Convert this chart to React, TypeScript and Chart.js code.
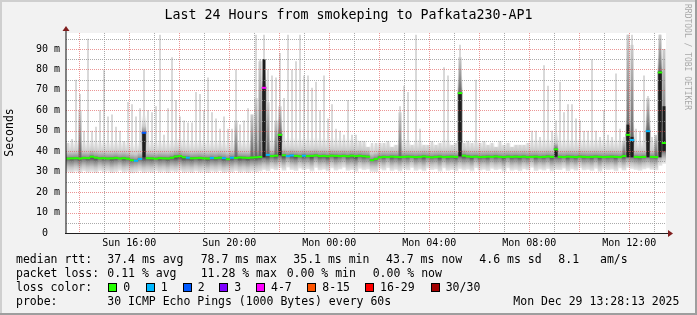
import React, { useEffect, useRef } from 'react';
import { Chart, registerables } from 'chart.js';

Chart.register(...registerables);

// ---------- data ----------
const STEP_MIN = 9.6; // minutes per sample column (150 columns over 24h)
const START_MIN = 13 * 60 + 28.2; // Sun 13:28:13
const Y_MAX = 97.8;

const yTickValues = [0, 10, 20, 30, 40, 50, 60, 70, 80, 90];
const yMinorValues = [5, 15, 25, 35, 45, 55, 65, 75, 85, 95];
const gridHours = [14, 15, 16, 17, 18, 19, 20, 21, 22, 23, 24, 25, 26, 27, 28, 29, 30, 31, 32, 33, 34, 35, 36, 37];
const xTickHours = [16, 20, 24, 28, 32, 36];
const xTickLabels = ['Sun 16:00', 'Sun 20:00', 'Mon 00:00', 'Mon 04:00', 'Mon 08:00', 'Mon 12:00'];

// upper envelope of the ping smoke (ms)
const smokeHigh = [
  44, 46, 75, 68, 50, 95, 50, 52, 60, 80,
  57, 58, 52, 50, 45, 64, 63, 57, 61, 80,
  60, 59, 62, 97, 48, 61, 86, 65, 57, 55,
  54, 54, 69, 68, 60, 76, 59, 56, 51, 57,
  51, 51, 80, 53, 55, 61, 51, 97, 85, 97,
  80, 77, 76, 88, 66, 97, 80, 84, 97, 77,
  77, 71, 74, 60, 77, 56, 63, 51, 50, 48,
  65, 48, 48, 45, 45, 42, 44, 44, 44, 44,
  45, 42, 43, 62, 72, 69, 43, 97, 51, 43,
  43, 45, 43, 44, 81, 77, 43, 44, 92, 44,
  45, 44, 75, 44, 45, 43, 44, 42, 45, 43,
  44, 42, 43, 43, 43, 44, 50, 50, 47, 82,
  72, 50, 55, 74, 59, 63, 63, 56, 55, 50,
  50, 85, 50, 47, 60, 48, 47, 78, 51, 47,
  97, 97, 51, 50, 77, 67, 47, 45, 97, 90,
];

// lower envelope of the ping smoke (ms)
const smokeLow = [
  30.0, 29.6, 30.2, 29.5, 30.4, 29.8, 30.1, 29.6, 30.5, 29.9,
  30.2, 29.5, 30.0, 30.6, 29.7, 30.1, 29.4, 29.8, 30.3, 29.6,
  30.0, 29.7, 30.4, 29.8, 30.1, 29.5, 30.2, 29.9, 30.5, 29.7,
  30.0, 29.6, 30.3, 29.8, 30.1, 29.5, 30.2, 29.9, 30.4, 29.6,
  30.0, 29.8, 30.5, 29.7, 30.1, 29.6, 30.2, 29.9, 30.3, 31.0,
  30.4, 31.5, 30.8, 31.9, 30.6, 32.2, 31.0, 30.5, 31.7, 30.9,
  31.4, 30.3, 32.0, 30.8, 31.2, 30.4, 31.8, 30.7, 31.3, 32.1,
  30.6, 31.0, 30.2, 31.6, 30.9, 31.3, 30.1, 30.0, 31.5, 30.7,
  31.9, 30.5, 31.1, 30.3, 31.4, 30.8, 32.0, 30.6, 31.2, 30.4,
  31.7, 30.9, 31.3, 30.2, 31.8, 30.6, 31.0, 30.4, 31.5, 30.8,
  31.2, 30.3, 31.9, 30.7, 31.1, 30.5, 31.6, 30.9, 31.3, 30.2,
  31.8, 30.6, 31.0, 30.4, 31.4, 30.8, 32.1, 30.5, 31.2, 30.7,
  31.5, 30.3, 31.0, 30.9, 31.7, 30.4, 31.3, 30.6, 31.9, 30.8,
  31.1, 30.5, 31.6, 30.2, 31.4, 30.9, 31.2, 30.4, 31.8, 30.7,
  32.0, 31.5, 31.0, 30.6, 31.3, 31.8, 31.1, 30.8, 33.0, 34.0,
];

// median rtt (ms)
const medianRtt = [
  36.4, 36.5, 36.6, 36.4, 36.7, 36.6, 37.3, 36.8, 36.5, 36.6,
  36.4, 36.5, 36.7, 36.4, 36.6, 36.3, 35.6, 35.3, 36.2, 49.0,
  36.6, 36.5, 36.3, 36.6, 36.5, 36.4, 36.8, 37.4, 37.6, 37.0,
  36.8, 36.5, 36.6, 36.7, 36.5, 36.4, 36.7, 36.6, 36.8, 36.6,
  36.1, 36.8, 36.7, 36.9, 36.8, 36.7, 36.9, 37.0, 37.2, 71.0,
  38.2, 37.6, 37.8, 48.0, 38.0, 37.6, 37.9, 37.7, 37.5, 37.8,
  37.6, 37.7, 37.9, 37.6, 37.7, 37.5, 37.8, 37.7, 37.6, 37.7,
  37.5, 37.8, 37.6, 37.7, 37.5, 37.3, 35.6, 36.2, 37.0, 37.2,
  37.1, 37.3, 37.2, 37.1, 37.2, 37.3, 37.2, 37.1, 37.2, 37.4,
  37.2, 37.0, 37.2, 37.3, 37.1, 37.2, 37.3, 37.2, 68.4, 37.8,
  37.4, 37.2, 37.3, 37.1, 37.2, 37.3, 37.2, 37.4, 37.2, 37.1,
  37.3, 37.2, 37.3, 37.2, 37.3, 37.1, 37.2, 37.3, 37.1, 37.2,
  37.4, 37.2, 40.9, 37.2, 37.1, 37.3, 37.2, 37.1, 37.3, 37.2,
  37.1, 37.2, 37.3, 37.2, 37.1, 37.2, 37.3, 37.2, 37.1, 37.6,
  48.0, 45.5, 37.2, 37.1, 37.2, 49.8, 37.2, 37.1, 78.5, 44.0,
];

// columns with loss (index into the sample columns) and their loss class
const lossColumns = [17, 18, 19, 30, 36, 39, 41, 49, 50, 55, 56, 59, 141, 145];
const lossClasses = [1, 1, 2, 1, 1, 1, 1, 4, 1, 1, 1, 1, 1, 1];

// dense (dark) smoke columns reaching above the usual band
const darkSmokeColumns = [3, 42, 46, 47, 48, 50, 52, 53, 83, 98, 122, 139, 140, 141, 145, 147, 148, 149];
const darkSmokeTop = [60, 55, 58, 66, 84, 64, 55, 62, 59, 86, 44, 45, 97, 92, 66, 48, 97, 90];

// very dense (black) smoke columns
const coreColumns = [19, 49, 53, 98, 122, 140, 141, 145, 148, 149];
const coreLow = [37.0, 37.0, 38.0, 37.5, 37.3, 37.0, 37.0, 37.0, 37.0, 40.0];
const coreTop = [49.0, 85.0, 48.0, 68.5, 41.0, 53.0, 47.0, 50.0, 79.0, 62.0];

const lossLegendLabels = ['0', '1', '2', '3', '4-7', '8-15', '16-29', '30/30'];
const lossLegendColors = ['#26ff00', '#00b8ff', '#0059ff', '#7e00ff', '#ff00ff', '#ff5500', '#ff0000', '#a10000'];

const titleText = 'Last 24 Hours from smokeping to Pafkata230-AP1';
const yAxisTitle = 'Seconds';
const watermark = 'RRDTOOL / TOBI OETIKER';
const legendRtt = ['median rtt:', '37.4 ms avg', '78.7 ms max', '35.1 ms min', '43.7 ms now', '4.6 ms sd', '8.1', 'am/s'];
const legendLoss = ['packet loss:', '0.11 % avg', '11.28 % max', '0.00 % min', '0.00 % now'];
const legendLossTitle = 'loss color:';
const legendProbe = ['probe:', '30 ICMP Echo Pings (1000 Bytes) every 60s', 'Mon Dec 29 13:28:13 2025'];

// ---------- layout / style ----------
const MONO = '"DejaVu Sans Mono", monospace';
const rttX = [16, 107.3, 200.7, 293.3, 386, 479.3, 558.3, 600];
const lossX = [16, 107.3, 200.7, 286.7, 372.7];
const boxX = [108.3, 145.7, 182.7, 219.3, 256, 307.3, 365, 430.7];
const probeX = [16, 107.3, 513.3];
const baselines = [263.3, 277.2, 291.1, 305];

const colX = (i: number) => (i + 0.5) * STEP_MIN;

const lossClassAt = (i: number) => {
  const k = lossColumns.indexOf(i);
  return k >= 0 ? lossClasses[k] : 0;
};

const MEDIAN_INDEX = 5;

function drawGrid(chart: any) {
  const { ctx, chartArea: a, scales } = chart;
  const x = scales.x;
  const y = scales.y;
  ctx.save();
  ctx.lineWidth = 1;
  ctx.setLineDash([1, 1]);
  const minor = 'rgba(143,143,143,0.75)';
  const major = 'rgba(222,79,79,0.6)';
  ctx.strokeStyle = minor;
  for (const v of yMinorValues) {
    if (v > Y_MAX) continue;
    const py = Math.round(y.getPixelForValue(v)) + 0.5;
    ctx.beginPath();
    ctx.moveTo(a.left, py);
    ctx.lineTo(a.right, py);
    ctx.stroke();
  }
  for (const h of gridHours) {
    const px = Math.round(x.getPixelForValue(h * 60 - START_MIN)) + 0.5;
    if (px < a.left || px > a.right) continue;
    ctx.strokeStyle = h % 2 === 0 ? major : minor;
    ctx.beginPath();
    ctx.moveTo(px, a.top);
    ctx.lineTo(px, a.bottom);
    ctx.stroke();
  }
  ctx.strokeStyle = major;
  for (const v of yTickValues) {
    if (v === 0) continue;
    const py = Math.round(y.getPixelForValue(v)) + 0.5;
    ctx.beginPath();
    ctx.moveTo(a.left, py);
    ctx.lineTo(a.right, py);
    ctx.stroke();
  }
  ctx.restore();
}

const rrdPlugin = {
  id: 'rrdLook',
  beforeDraw(chart: any) {
    const { ctx, chartArea: a, width, height } = chart;
    ctx.save();
    ctx.fillStyle = '#f2f2f2';
    ctx.fillRect(0, 0, width, height);
    ctx.fillStyle = '#cfcfcf';
    ctx.fillRect(0, 0, width, 2);
    ctx.fillRect(0, 0, 2, height);
    ctx.fillStyle = '#9e9e9e';
    ctx.fillRect(0, height - 2, width, 2);
    ctx.fillRect(width - 2, 0, 2, height);
    ctx.fillStyle = '#ffffff';
    ctx.fillRect(a.left, a.top, a.right - a.left, a.bottom - a.top);
    ctx.restore();
  },
  beforeDatasetDraw(chart: any, args: any) {
    if (args.index === MEDIAN_INDEX) drawGrid(chart);
  },
  afterDraw(chart: any) {
    const { ctx, chartArea: a, width } = chart;
    ctx.save();
    // axes
    ctx.fillStyle = 'rgba(31,31,31,0.55)';
    ctx.fillRect(a.left - 1, a.top - 3, 2, a.bottom - a.top + 3);
    ctx.fillStyle = '#1f1f1f';
    ctx.fillRect(a.left - 1, a.bottom, a.right - a.left + 4, 1);
    // arrows
    ctx.fillStyle = '#801f1f';
    ctx.beginPath();
    ctx.moveTo(a.left, a.top - 7);
    ctx.lineTo(a.left - 3.5, a.top - 2);
    ctx.lineTo(a.left + 3.5, a.top - 2);
    ctx.closePath();
    ctx.fill();
    ctx.beginPath();
    ctx.moveTo(a.right + 7, a.bottom + 0.5);
    ctx.lineTo(a.right + 2, a.bottom - 3);
    ctx.lineTo(a.right + 2, a.bottom + 4);
    ctx.closePath();
    ctx.fill();

    // title
    ctx.fillStyle = '#000';
    ctx.font = '13.3px ' + MONO;
    ctx.textAlign = 'center';
    ctx.textBaseline = 'alphabetic';
    ctx.fillText(titleText, width / 2, 18.5);

    // y title
    ctx.save();
    ctx.translate(10.5, 132.5);
    ctx.rotate(-Math.PI / 2);
    ctx.font = '11.5px ' + MONO;
    ctx.textAlign = 'center';
    ctx.textBaseline = 'middle';
    ctx.fillText(yAxisTitle, 0, 0);
    ctx.restore();

    // watermark
    ctx.save();
    ctx.translate(685, 4);
    ctx.rotate(Math.PI / 2);
    ctx.font = '8px ' + MONO;
    ctx.fillStyle = 'rgba(0,0,0,0.32)';
    ctx.textAlign = 'left';
    ctx.textBaseline = 'alphabetic';
    ctx.fillText(watermark, 0, 0);
    ctx.restore();

    // legend
    ctx.font = '11.5px ' + MONO;
    ctx.textAlign = 'left';
    ctx.textBaseline = 'alphabetic';
    ctx.fillStyle = '#000';
    legendRtt.forEach((t, i) => ctx.fillText(t, rttX[i], baselines[0]));
    legendLoss.forEach((t, i) => ctx.fillText(t, lossX[i], baselines[1]));
    ctx.fillText(legendLossTitle, 16, baselines[2]);
    lossLegendLabels.forEach((t, i) => {
      const bx = Math.round(boxX[i]);
      ctx.fillStyle = lossLegendColors[i];
      ctx.fillRect(bx, 283, 8, 8);
      ctx.strokeStyle = '#000';
      ctx.lineWidth = 1;
      ctx.strokeRect(bx + 0.5, 283.5, 8, 8);
      ctx.fillStyle = '#000';
      ctx.fillText(t, boxX[i] + 15, baselines[2]);
    });
    legendProbe.forEach((t, i) => ctx.fillText(t, probeX[i], baselines[3]));
    ctx.restore();
  },
};

function lowerSmokeColor(c: any) {
  const chart = c.chart;
  const y = chart.scales && chart.scales.y;
  if (c.type !== 'data' || !y || !chart.chartArea) return '#bbbbbb';
  const i = c.dataIndex;
  const p0 = y.getPixelForValue(smokeLow[i]);
  const p1 = y.getPixelForValue(smokeLow[i] + 6.8);
  const g = chart.ctx.createLinearGradient(0, p0, 0, p1);
  g.addColorStop(0, '#e8e8e8');
  g.addColorStop(0.35, '#c6c6c6');
  g.addColorStop(0.72, '#8e8e8e');
  g.addColorStop(1, '#505050');
  return g;
}

function hazeColor(c: any) {
  const chart = c.chart;
  const y = chart.scales && chart.scales.y;
  if (c.type !== 'data' || !y || !chart.chartArea) return 'rgba(200,200,200,0.5)';
  const i = c.dataIndex;
  const p0 = y.getPixelForValue(medianRtt[i]);
  const p1 = y.getPixelForValue(medianRtt[i] + 9);
  const g = chart.ctx.createLinearGradient(0, p0, 0, p1);
  g.addColorStop(0, 'rgba(88,88,88,1)');
  g.addColorStop(0.09, 'rgba(150,150,150,1)');
  g.addColorStop(0.35, 'rgba(202,202,202,1)');
  g.addColorStop(0.7, 'rgba(216,216,216,0.55)');
  g.addColorStop(1, 'rgba(225,225,225,0)');
  return g;
}

function darkSmokeColor(c: any) {
  const chart = c.chart;
  const y = chart.scales && chart.scales.y;
  if (c.type !== 'data' || !y || !chart.chartArea) return '#999999';
  const k = c.dataIndex;
  const i = darkSmokeColumns[k];
  const p0 = y.getPixelForValue(medianRtt[i]);
  const p1 = y.getPixelForValue(darkSmokeTop[k]);
  const g = chart.ctx.createLinearGradient(0, p0, 0, p1);
  g.addColorStop(0, '#666666');
  g.addColorStop(0.5, '#989898');
  g.addColorStop(1, '#cccccc');
  return g;
}

export default function App() {
  const ref = useRef<HTMLCanvasElement>(null);

  useEffect(() => {
    const canvas = ref.current;
    if (!canvas) return;
    const barCommon = {
      type: 'bar' as const,
      grouped: false,
      barPercentage: 1,
      categoryPercentage: 1,
      borderWidth: 0,
    };
    const upperData = medianRtt.map((m, i) => ({ x: colX(i), y: [m, smokeHigh[i]] }));
    const chart = new Chart(canvas, {
      type: 'bar',
      data: {
        datasets: [
          {
            ...barCommon,
            label: 'smoke low',
            order: 6,
            data: medianRtt.map((m, i) => ({ x: colX(i), y: [smokeLow[i], m] })),
            backgroundColor: lowerSmokeColor,
          } as any,
          {
            ...barCommon,
            label: 'smoke high',
            order: 5,
            barPercentage: 0.5,
            data: upperData,
            backgroundColor: '#d9d9d9',
          } as any,
          {
            ...barCommon,
            label: 'smoke haze',
            order: 4,
            data: upperData,
            backgroundColor: hazeColor,
          } as any,
          {
            ...barCommon,
            label: 'dense smoke',
            order: 3,
            barPercentage: 0.75,
            data: darkSmokeColumns.map((i, k) => ({ x: colX(i), y: [medianRtt[i], darkSmokeTop[k]] })),
            backgroundColor: darkSmokeColor,
          } as any,
          {
            ...barCommon,
            label: 'core',
            order: 2,
            barPercentage: 0.75,
            data: coreColumns.map((i, k) => ({ x: colX(i), y: [coreLow[k], coreTop[k]] })),
            backgroundColor: '#1e1e1e',
          } as any,
          {
            type: 'line',
            label: 'median rtt',
            order: 1,
            data: medianRtt.map((m, i) => ({ x: colX(i), y: m })),
            showLine: false,
            pointStyle: 'line',
            pointRadius: 2.2,
            pointHoverRadius: 2.2,
            pointBorderWidth: 2,
            pointBorderColor: (c: any) => lossLegendColors[lossClassAt(c.dataIndex)],
            pointBackgroundColor: (c: any) => lossLegendColors[lossClassAt(c.dataIndex)],
          } as any,
        ],
      },
      options: {
        responsive: false,
        maintainAspectRatio: false,
        animation: false,
        devicePixelRatio: 1,
        events: [],
        layout: { padding: { left: 0, right: 31, top: 33, bottom: 62 } },
        plugins: {
          legend: { display: false },
          tooltip: { enabled: false },
          title: { display: false },
        },
        scales: {
          x: {
            type: 'linear',
            min: 0,
            max: 1440,
            offset: false,
            grid: { display: false, drawTicks: false },
            border: { display: false },
            afterFit: (s: any) => {
              s.height = 20;
            },
            afterBuildTicks: (s: any) => {
              s.ticks = xTickHours.map((h) => ({ value: h * 60 - START_MIN }));
            },
            ticks: {
              autoSkip: false,
              maxRotation: 0,
              minRotation: 0,
              padding: 4,
              color: '#000',
              font: { family: MONO, size: 10 },
              callback: (_v: any, i: number) => xTickLabels[i],
            },
          },
          y: {
            type: 'linear',
            min: 0,
            max: Y_MAX,
            grid: { display: false, drawTicks: false },
            border: { display: false },
            afterFit: (s: any) => {
              s.width = 66;
            },
            afterBuildTicks: (s: any) => {
              s.ticks = yTickValues.map((v) => ({ value: v }));
            },
            ticks: {
              padding: 6,
              color: '#000',
              font: { family: MONO, size: 10 },
              callback: (v: any) => (Number(v) === 0 ? '0  ' : `${v} m`),
            },
          },
        },
      } as any,
      plugins: [rrdPlugin],
    });
    return () => chart.destroy();
  }, []);

  return (
    <div style={{ position: 'fixed', left: 0, top: 0, width: 697, height: 315 }}>
      <canvas ref={ref} width={697} height={315} style={{ display: 'block', width: 697, height: 315 }} />
    </div>
  );
}
